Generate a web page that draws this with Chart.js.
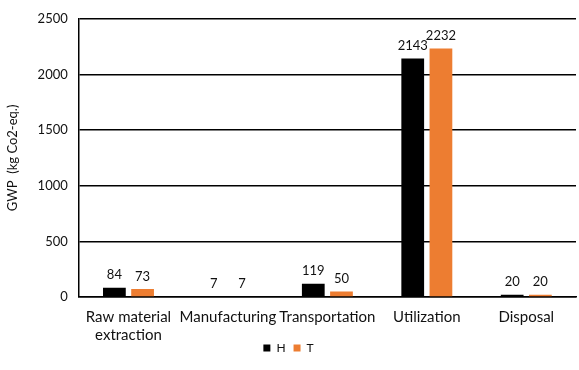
<!DOCTYPE html>
<html>
<head>
<meta charset="utf-8">
<script src="https://cdn.jsdelivr.net/npm/chart.js@4/dist/chart.umd.min.js"></script>
<style>
  html, body { margin: 0; padding: 0; background: #fff; }
  #wrap { width: 579px; height: 370px; }
</style>
</head>
<body>
<div id="wrap"><canvas id="ctx"></canvas></div>
<script>
var categories = [['Raw material', 'extraction'], 'Manufacturing', 'Transportation', 'Utilization', 'Disposal'];
var seriesH = [84, 7, 119, 2143, 20];
var seriesT = [73, 7, 50, 2232, 20];
var yTicks = [0, 500, 1000, 1500, 2000, 2500];

var FONT = 'Lato, "Open Sans", sans-serif';

// value labels above each bar
var barLabels = {
	id: 'barLabels',
	beforeDraw: function(chart){
		// x axis box is squeezed in afterFit, so don't clip the two-line label
		if(chart.scales.x){
			chart.scales.x._computeLabelArea = function(){ return undefined; };
		}
	},
	afterDatasetsDraw: function(chart){
		var c = chart.ctx;
		c.save();
		c.font = '13px ' + FONT;
		c.fillStyle = '#111';
		c.textAlign = 'center';
		c.textBaseline = 'bottom';
		chart.data.datasets.forEach(function(ds, i){
			var meta = chart.getDatasetMeta(i);
			meta.data.forEach(function(bar, j){
				c.fillText(String(ds.data[j]), bar.x, bar.y - 6);
			});
		});
		c.restore();
	}
};

new Chart(document.getElementById('ctx'), {
	type: 'bar',
	data: {
		labels: categories,
		datasets: [
			{ label: 'H', data: seriesH, backgroundColor: '#000000', categoryPercentage: 0.567, barPercentage: 0.807 },
			{ label: 'T', data: seriesT, backgroundColor: '#ED7D31', categoryPercentage: 0.567, barPercentage: 0.807 }
		]
	},
	options: {
		responsive: true,
		maintainAspectRatio: false,
		animation: false,
		layout: { padding: { top: 10, right: 3, left: 1, bottom: 6 } },
		plugins: {
			legend: {
				position: 'bottom',
				labels: {
					boxWidth: 7, boxHeight: 7, padding: 8,
					color: '#111',
					font: { family: FONT, size: 12 }
				}
			},
			tooltip: { enabled: false }
		},
		scales: {
			x: {
				grid: { display: false, drawTicks: false },
				border: { color: '#000', width: 1.5 },
				afterFit: function(scale){ scale.height -= 21; },
				ticks: {
					color: '#111', padding: 11, maxRotation: 0, autoSkip: false,
					font: { family: FONT, size: 15, lineHeight: 1.2 }
				}
			},
			y: {
				min: 0, max: 2500,
				afterBuildTicks: function(axis){
					axis.ticks = yTicks.map(function(v){ return { value: v }; });
				},
				grid: { color: '#000', lineWidth: 1.5, drawTicks: false },
				border: { color: '#000', width: 1.5 },
				title: {
					display: true, text: 'GWP  (kg Co2-eq.)', color: '#111',
					font: { family: FONT, size: 13 }, padding: { bottom: 6 }
				},
				ticks: {
					color: '#111', padding: 11,
					font: { family: FONT, size: 13 },
					callback: function(v){ return String(v); }
				}
			}
		}
	},
	plugins: [barLabels]
});
</script>
</body>
</html>
